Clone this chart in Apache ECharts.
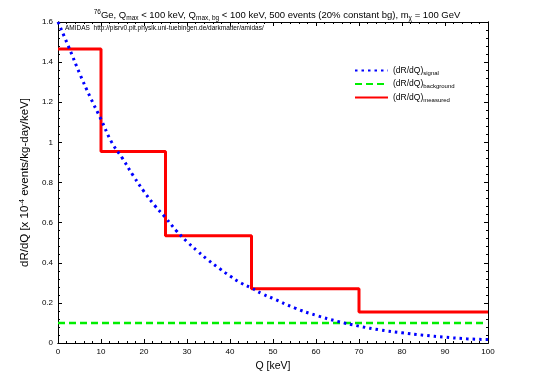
<!DOCTYPE html>
<html>
<head>
<meta charset="utf-8">
<script src="https://cdn.jsdelivr.net/npm/echarts@6/dist/echarts.min.js"></script>
<style>
  html, body { margin: 0; padding: 0; background: #fff; }
  #chart { width: 534px; height: 374px; }
</style>
</head>
<body>
<div id="chart"></div>
<script>
// signal curve, Q in keV
const signalQ = [0, 2.5, 5, 7.5, 10, 12.5, 15, 17.5, 20, 22.5, 25, 27.5, 30, 32.5, 35, 37.5, 40, 42.5, 45, 47.5, 50, 55, 60, 65, 70, 75, 80, 85, 90, 95, 100];
const signalR = [1.60, 1.475, 1.345, 1.225, 1.115, 1.0, 0.92, 0.834, 0.755, 0.685, 0.625, 0.56, 0.505, 0.457, 0.412, 0.372, 0.334, 0.30, 0.274, 0.245, 0.222, 0.175, 0.138, 0.108, 0.084, 0.065, 0.051, 0.039, 0.029, 0.021, 0.017];
// measured histogram: bin edges and bin values
const binEdges = [0, 10, 25, 45, 70, 100];
const binValues = [1.465, 0.955, 0.535, 0.27, 0.155];
// constant background
const bgQ = [0, 99];
const bgValue = 0.1;

const font = 'Liberation Sans, Arial, sans-serif';

const chart = echarts.init(document.getElementById('chart'));

const measured = binEdges.map((q, i) => [q, binValues[Math.min(i, binValues.length - 1)]]);
const background = bgQ.map(q => [q, bgValue]);
const signal = signalQ.map((q, i) => [q, signalR[i]]);

const sub = { fontSize: 6.5, fontFamily: font, color: '#000', verticalAlign: 'bottom', padding: [6, 0, 0, 0] };
const sup = { fontSize: 6.5, fontFamily: font, color: '#000', verticalAlign: 'top', padding: [0, 0, 5, 0] };

// minor ticks in echarts always point outward, so inward minor ticks get their own axes
function makeAxis(pos, min, max, interval, tickLen, extra) {
  return Object.assign({
    type: 'value', position: pos, min: min, max: max, interval: interval,
    axisLine: { show: true, onZero: false, lineStyle: { color: '#000', width: 1 } },
    axisTick: { show: true, inside: true, length: tickLen, lineStyle: { color: '#000' } },
    splitLine: { show: false },
    axisLabel: { show: false }
  }, extra || {});
}

const tickLabel = { show: true, color: '#000', fontSize: 8, fontFamily: font, margin: 5 };

const option = {
  animation: false,
  backgroundColor: '#fff',
  title: {
    text: '{sup|76}Ge, Q{sub|max} < 100 keV, Q{sub|max, bg} < 100 keV, 500 events (20% constant bg), m{sub|χ} = 100 GeV',
    left: 272,
    textAlign: 'center',
    top: 4,
    textStyle: {
      fontSize: 9.5,
      fontWeight: 'normal',
      fontFamily: font,
      color: '#000',
      rich: { sub: sub, sup: sup }
    }
  },
  graphic: [{
    type: 'text',
    left: 65,
    top: 25,
    z: 10,
    style: {
      text: 'AMIDAS  http://pisrv0.pit.physik.uni-tuebingen.de/darkmatter/amidas/',
      fontSize: 6.5,
      fontFamily: font,
      fill: '#000'
    }
  }],
  legend: {
    orient: 'vertical',
    left: 349,
    top: 61,
    itemWidth: 33,
    itemHeight: 10,
    itemGap: 3.5,
    data: ['signal', 'background', 'measured'],
    itemStyle: { opacity: 0 },
    formatter: name => '(dR/dQ){sub|' + name + '}',
    textStyle: {
      fontSize: 8.5,
      fontFamily: font,
      color: '#000',
      rich: { sub: { fontSize: 6, fontFamily: font, color: '#000', verticalAlign: 'bottom', padding: [5, 0, 0, 0] } }
    }
  },
  grid: { left: 58, right: 46, top: 22, bottom: 31, outerBoundsMode: 'none', containLabel: false },
  xAxis: [
    makeAxis('bottom', 0, 100, 10, 4, {
      axisLabel: tickLabel,
      name: 'Q [keV]', nameLocation: 'middle', nameGap: 18,
      nameTextStyle: { color: '#000', fontSize: 10.5, fontFamily: font }
    }),
    makeAxis('top', 0, 100, 10, 4),
    makeAxis('bottom', 0, 100, 2, 2),
    makeAxis('top', 0, 100, 2, 2)
  ],
  yAxis: [
    makeAxis('left', 0, 1.6, 0.2, 4, {
      axisLabel: tickLabel,
      name: 'dR/dQ [x 10{sup|-4} events/kg-day/keV]', nameLocation: 'middle', nameGap: 24,
      nameTextStyle: { color: '#000', fontSize: 11.5, fontFamily: font, rich: { sup: { fontSize: 7.5, fontFamily: font, color: '#000', verticalAlign: 'top', padding: [0, 0, 6, 0] } } }
    }),
    makeAxis('right', 0, 1.6, 0.2, 4),
    makeAxis('left', 0, 1.6, 0.04, 2),
    makeAxis('right', 0, 1.6, 0.04, 2)
  ],
  series: [
    {
      name: 'measured',
      type: 'line',
      step: 'end',
      data: measured,
      symbol: 'none',
      lineStyle: { color: '#ff0000', width: 3 },
      itemStyle: { color: '#ff0000' },
      z: 2
    },
    {
      name: 'background',
      type: 'line',
      data: background,
      symbol: 'none',
      lineStyle: { color: '#00ee00', width: 2.5, type: [7, 4] },
      itemStyle: { color: '#00ee00' },
      z: 3
    },
    {
      name: 'signal',
      type: 'line',
      data: signal,
      smooth: true,
      symbol: 'none',
      lineStyle: { color: '#0000ff', width: 3, type: [2.5, 4] },
      itemStyle: { color: '#0000ff' },
      z: 4
    }
  ]
};

chart.setOption(option);
</script>
</body>
</html>
